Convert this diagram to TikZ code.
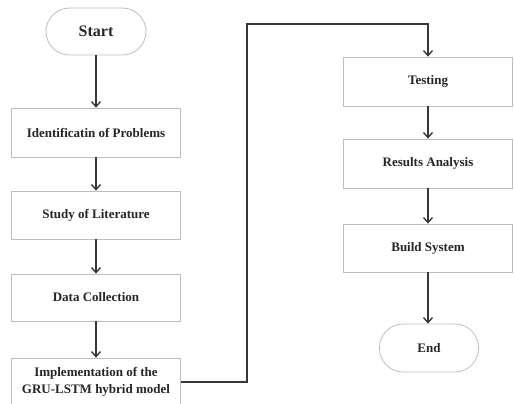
\documentclass[tikz,border=0pt]{standalone}
\usepackage{fontspec}
\setmainfont{Liberation Serif}
\usetikzlibrary{arrows.meta, positioning}
\definecolor{borda}{RGB}{190, 190, 190}
\definecolor{linha}{RGB}{55, 55, 55}
\tikzset{
  etapa/.style={
    draw=borda, line width=0.8pt, fill=white, align=center,
    minimum width=169pt, minimum height=49pt,
    font=\fontsize{13}{17}\selectfont\bfseries, text=black!85
  },
  terminal/.style={etapa, rounded corners=23.5pt, minimum width=100pt, minimum height=47pt},
  seta/.style={-{Straight Barb[length=5pt, width=9pt]}, line width=1.4pt, linha},
}
\begin{document}
\begin{tikzpicture}[x=1pt, y=-1pt]

\clip (0,0) rectangle (514,404);

\node[terminal, font=\fontsize{16}{19}\selectfont\bfseries] (start) at (96,31.5) {Start};

\node[etapa] (ident) at (96,132.5) {Identificatin of Problems};

\node[etapa, minimum height=48pt] (study) at (96,215) {Study of Literature};

\node[etapa, minimum height=47pt] (data) at (96,297.5) {Data Collection};

\node[etapa, minimum height=48pt] (impl) at (96,382)
{Implementation of the\\
GRU-LSTM hybrid model};

\node[etapa] (testing) at (428,81.5) {Testing};

\node[etapa] (results) at (428,163.5) {Results Analysis};

\node[etapa, minimum height=48pt] (build) at (428,248) {Build System};

\node[terminal, minimum width=99pt, minimum height=48pt] (end) at (429,348) {End};

\coordinate (volta) at (247,24);

\draw[seta] (start) -- (ident);
\draw[seta] (ident) -- (study);
\draw[seta] (study) -- (data);
\draw[seta] (data) -- (impl);
\draw[seta] (impl.east) -| (volta) -| (testing.north);
\draw[seta] (testing) -- (results);
\draw[seta] (results) -- (build);
\draw[seta] (build) -- (build |- end.north);

\end{tikzpicture}
\end{document}
